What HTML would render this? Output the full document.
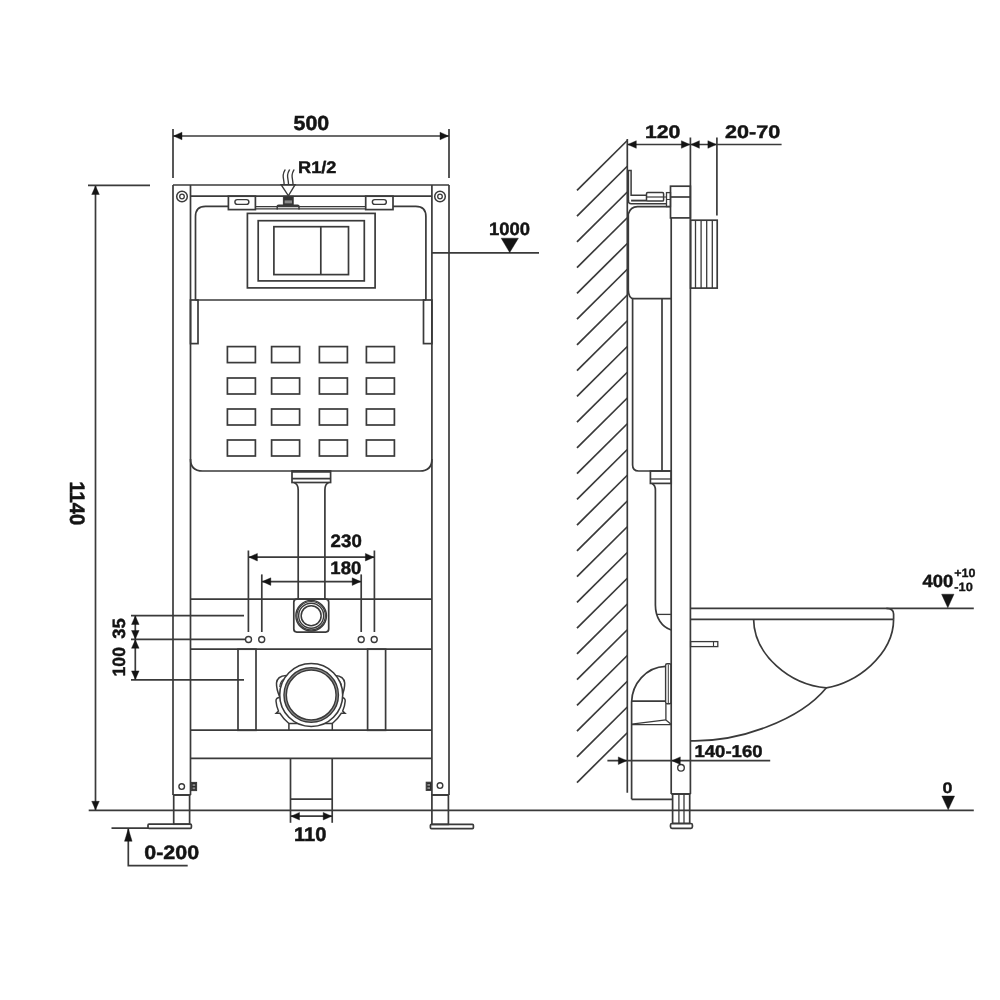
<!DOCTYPE html>
<html><head><meta charset="utf-8"><title>Installation frame drawing</title>
<style>
html,body{margin:0;padding:0;background:#fff;width:1000px;height:1000px;overflow:hidden}
svg{display:block;will-change:transform}
svg line,svg rect,svg circle,svg path,svg polygon{stroke:#3a3a3a;stroke-width:1.7;fill:none}
svg .f{fill:#141414;stroke:#141414;stroke-width:0.4}
svg text{font-family:"Liberation Sans",sans-serif;font-weight:bold;fill:#141414;stroke:#141414;stroke-width:0.5;text-rendering:geometricPrecision}
</style></head>
<body>
<svg width="1000" height="1000" viewBox="0 0 1000 1000">
<rect x="0" y="0" width="1000" height="1000" fill="#fff" style="stroke:none"/>
<line x1="173" y1="129" x2="173" y2="178"/>
<line x1="449" y1="129" x2="449" y2="178"/>
<line x1="173" y1="136" x2="449" y2="136"/>
<polygon points="173.5,136 182.0,132.2 182.0,139.8" class="f"/>
<polygon points="448.5,136 440.0,132.2 440.0,139.8" class="f"/>
<text x="0" y="0" font-size="20" transform="matrix(1.0678 0 0 1.024 293.593 130.05)">500</text>
<line x1="173" y1="185" x2="173" y2="795"/>
<line x1="449" y1="185" x2="449" y2="795"/>
<line x1="190.5" y1="185" x2="190.5" y2="795"/>
<line x1="431.9" y1="185" x2="431.9" y2="795"/>
<line x1="173" y1="185" x2="449" y2="185"/>
<line x1="190.5" y1="196.2" x2="431.9" y2="196.2"/>
<line x1="173" y1="795" x2="190.5" y2="795"/>
<line x1="431.9" y1="795" x2="449" y2="795"/>
<circle cx="182" cy="196.5" r="5.3" style="stroke-width:1.5;"/>
<circle cx="182" cy="196.5" r="2.3" style="stroke-width:1.3;"/>
<circle cx="440" cy="196.5" r="5.3" style="stroke-width:1.5;"/>
<circle cx="440" cy="196.5" r="2.3" style="stroke-width:1.3;"/>
<rect x="228.4" y="196.2" width="27.0" height="13.4"/>
<rect x="234.9" y="199.6" width="14.0" height="4.8" rx="2.4" style="stroke-width:1.4;"/>
<rect x="365.7" y="196.2" width="27.3" height="13.4"/>
<rect x="372.35" y="199.6" width="14.0" height="4.8" rx="2.4" style="stroke-width:1.4;"/>
<path d="M195.5,300 V216.5 Q195.5,206.3 205.5,206.3 H228.4"/>
<path d="M393,206.3 H415.8 Q425.9,206.3 425.9,216.5 V300"/>
<line x1="195.5" y1="300" x2="426" y2="300"/>
<line x1="255.4" y1="206.6" x2="365.7" y2="206.6" style="stroke-width:1.2"/>
<line x1="255.4" y1="208.9" x2="365.7" y2="208.9" style="stroke-width:1.2"/>
<path d="M281.1,184.6 L295.1,184.6 L288.4,195.8 Z" style="stroke-width:1.4;"/>
<path d="M284.2,185 C284.0,180 282.9,178 283.2,175 S284.5,171 285.3,169.5" style="stroke-width:1.35;"/>
<path d="M288.6,185 C288.40000000000003,180 287.3,178 287.6,175 S288.90000000000003,171 289.70000000000005,169.5" style="stroke-width:1.35;"/>
<path d="M293.1,185 C292.90000000000003,180 291.8,178 292.1,175 S293.40000000000003,171 294.20000000000005,169.5" style="stroke-width:1.35;"/>
<rect x="283.4" y="196.3" width="9.8" height="9.0" style="fill:#333;stroke-width:1.0;"/>
<rect x="284.6" y="200.4" width="7.4" height="3.0" style="fill:#8a8a8a;stroke:none"/>
<path d="M277.2,209.6 V206.4 Q277.2,205.3 278.6,205.3 H297.6 Q299,205.3 299,206.4 V209.6" style="stroke-width:1.5;"/>
<rect x="247.4" y="213.4" width="127.7" height="74.5"/>
<rect x="258.2" y="220.7" width="106.1" height="60.2"/>
<rect x="273.9" y="226.7" width="74.6" height="47.9"/>
<line x1="320.8" y1="226.7" x2="320.8" y2="274.6"/>
<text x="0" y="0" font-size="20" transform="matrix(0.9101 0 0 0.8393 298.0324 172.9139)">R1/2</text>
<path d="M190.5,459 Q190.5,471 202.5,471 H419.9 Q431.9,471 431.9,459"/>
<rect x="190.5" y="300" width="7.5" height="43.6"/>
<rect x="423.5" y="300" width="8.4" height="43.6"/>
<rect x="227.4" y="346.6" width="28.0" height="16.0"/>
<rect x="227.4" y="378" width="28.0" height="16"/>
<rect x="227.4" y="409" width="28.0" height="16"/>
<rect x="227.4" y="440" width="28.0" height="16"/>
<rect x="271.6" y="346.6" width="28.0" height="16.0"/>
<rect x="271.6" y="378" width="28.0" height="16"/>
<rect x="271.6" y="409" width="28.0" height="16"/>
<rect x="271.6" y="440" width="28.0" height="16"/>
<rect x="319.4" y="346.6" width="28.0" height="16.0"/>
<rect x="319.4" y="378" width="28.0" height="16"/>
<rect x="319.4" y="409" width="28.0" height="16"/>
<rect x="319.4" y="440" width="28.0" height="16"/>
<rect x="366.4" y="346.6" width="28.0" height="16.0"/>
<rect x="366.4" y="378" width="28.0" height="16"/>
<rect x="366.4" y="409" width="28.0" height="16"/>
<rect x="366.4" y="440" width="28.0" height="16"/>
<rect x="292" y="471" width="38.6" height="11.5"/>
<line x1="292" y1="471.6" x2="330.6" y2="471.6" style="stroke-width:2.4"/>
<line x1="292" y1="478.6" x2="330.6" y2="478.6"/>
<path d="M294,482.5 Q298.2,484 298.2,490 V599"/>
<path d="M328.6,482.5 Q324.9,484 324.9,490 V599"/>
<line x1="190.5" y1="599.1" x2="431.9" y2="599.1"/>
<line x1="190.5" y1="649.2" x2="431.9" y2="649.2"/>
<rect x="293.8" y="599.2" width="34.9" height="32.9" rx="3"/>
<circle cx="311.15" cy="615.7" r="15.3" style="stroke-width:1.4;"/>
<circle cx="311.15" cy="615.7" r="14.2" style="stroke-width:1.2;"/>
<circle cx="311.15" cy="615.7" r="12.5" style="stroke-width:1.4;"/>
<circle cx="311.15" cy="615.7" r="10.0" style="stroke-width:1.5;"/>
<line x1="248.4" y1="550.5" x2="248.4" y2="632"/>
<line x1="374.4" y1="550.5" x2="374.4" y2="632"/>
<line x1="261.8" y1="574.4" x2="261.8" y2="632"/>
<line x1="361.2" y1="574.4" x2="361.2" y2="632"/>
<line x1="248.4" y1="557.2" x2="374.4" y2="557.2"/>
<polygon points="248.9,557.2 257.4,553.4 257.4,561.0" class="f"/>
<polygon points="373.9,557.2 365.4,553.4 365.4,561.0" class="f"/>
<line x1="261.8" y1="581.6" x2="361.2" y2="581.6"/>
<polygon points="262.3,581.6 270.8,577.8 270.8,585.4" class="f"/>
<polygon points="360.7,581.6 352.2,577.8 352.2,585.4" class="f"/>
<text x="0" y="0" font-size="20" transform="matrix(0.9339 0 0 0.8986 330.6025 546.5482)">230</text>
<text x="0" y="0" font-size="20" transform="matrix(0.9268 0 0 0.9004 330.3324 574.3241)">180</text>
<circle cx="248.5" cy="639.5" r="3.0" style="stroke-width:1.4;"/>
<circle cx="261.7" cy="639.5" r="3.0" style="stroke-width:1.4;"/>
<circle cx="361.2" cy="639.5" r="3.0" style="stroke-width:1.4;"/>
<circle cx="374.2" cy="639.5" r="3.0" style="stroke-width:1.4;"/>
<line x1="131" y1="615.6" x2="244" y2="615.6"/>
<line x1="131" y1="639.4" x2="245.4" y2="639.4"/>
<line x1="131" y1="679.8" x2="244" y2="679.8"/>
<line x1="135.3" y1="615.6" x2="135.3" y2="679.8"/>
<polygon points="135.3,616 131.5,624.5 139.1,624.5" class="f"/>
<polygon points="135.3,639 131.5,630.5 139.1,630.5" class="f"/>
<polygon points="135.3,639.8 131.5,648.3 139.1,648.3" class="f"/>
<polygon points="135.3,679.4 131.5,670.9 139.1,670.9" class="f"/>
<text x="0" y="0" font-size="20" transform="matrix(0 -0.9185 0.888 0 125.3506 638.7716)">35</text>
<text x="0" y="0" font-size="20" transform="matrix(0 -0.8821 0.8898 0 125.3762 676.4612)">100</text>
<rect x="238" y="649.2" width="18" height="81.1"/>
<rect x="367.6" y="649.2" width="18.0" height="81.1"/>
<path d="M288.9,730 V723.5 H332.3 V730" style="stroke-width:1.5"/>
<g id="clipL">
<path d="M286.2,675.4 C281,675.6 277,678 276.5,683 C276.3,688 278,693 279.8,697.2" style="stroke-width:1.5;"/>
<path d="M284,679 C281.5,680.5 280,683 279.8,687" style="stroke-width:1.2;"/>
<path d="M279.8,697.5 C277.5,697.5 275.8,698.5 276,701 C276.2,705 277.5,708.5 278.5,711 L276.2,713.2 L279.8,713.2 C281.5,716 285,720.5 288.9,723.5" style="stroke-width:1.5;"/>
</g>
<use href="#clipL" transform="translate(621.2 0) scale(-1 1)"/>
<circle cx="311.2" cy="695" r="31.5" style="fill:#fff;stroke-width:1.6;"/>
<circle cx="311.2" cy="695" r="26.05" style="stroke:#9a9a9a;stroke-width:1.6"/>
<circle cx="311.2" cy="695" r="27.2" style="stroke-width:1.5;"/>
<circle cx="311.2" cy="695" r="24.9" style="stroke-width:1.5;"/>
<line x1="190.5" y1="730.2" x2="431.9" y2="730.2"/>
<line x1="190.5" y1="758.3" x2="431.9" y2="758.3"/>
<line x1="290.5" y1="758.3" x2="290.5" y2="822.8"/>
<line x1="332.2" y1="758.3" x2="332.2" y2="822.8"/>
<line x1="290.5" y1="799.2" x2="332.2" y2="799.2"/>
<line x1="290.5" y1="816.2" x2="332.2" y2="816.2"/>
<polygon points="291,816.2 299.5,812.4 299.5,820.0" class="f"/>
<polygon points="331.7,816.2 323.2,812.4 323.2,820.0" class="f"/>
<text x="0" y="0" font-size="20" transform="matrix(1.0067 0 0 0.9887 293.9817 840.5569)">110</text>
<rect x="173.7" y="795" width="15.9" height="29.2"/>
<rect x="148" y="824.2" width="43.4" height="4.1" rx="1"/>
<rect x="431.9" y="795" width="16.5" height="29.4"/>
<rect x="430.4" y="824.4" width="43.0" height="4.2" rx="1"/>
<circle cx="181.7" cy="786.6" r="2.8" style="stroke-width:1.4;"/>
<circle cx="440" cy="785.6" r="2.8" style="stroke-width:1.4;"/>
<rect x="191.3" y="782.4" width="5.3" height="8.2" style="fill:#2e2e2e;stroke-width:1.0;"/>
<rect x="192.6" y="784.2" width="2.6" height="1.8" style="fill:#8a8a8a;stroke:none"/><rect x="192.6" y="787.4" width="2.6" height="1.8" style="fill:#8a8a8a;stroke:none"/>
<rect x="426.2" y="782.2" width="5.2" height="8.2" style="fill:#2e2e2e;stroke-width:1.0;"/>
<rect x="427.4" y="784" width="2.6" height="1.8" style="fill:#8a8a8a;stroke:none"/><rect x="427.4" y="787.2" width="2.6" height="1.8" style="fill:#8a8a8a;stroke:none"/>
<line x1="88.7" y1="810.3" x2="973.8" y2="810.3"/>
<line x1="88" y1="185.4" x2="150" y2="185.4"/>
<line x1="95.5" y1="185.5" x2="95.5" y2="810"/>
<polygon points="95.5,186 91.7,194.5 99.3,194.5" class="f"/>
<polygon points="95.5,809.8 91.7,801.3 99.3,801.3" class="f"/>
<text x="0" y="0" font-size="20" transform="matrix(0 1.0068 -1.0452 0 70.3541 481.4817)">1140</text>
<line x1="111.5" y1="828.2" x2="148" y2="828.2"/>
<path d="M128.3,829 V865.7 H187.7" style="fill:none;"/>
<polygon points="128.3,828.8 124.5,841.3 132.1,841.3" class="f"/>
<text x="0" y="0" font-size="20" transform="matrix(1.0739 0 0 0.9746 144.2006 858.5597)">0-200</text>
<line x1="431.9" y1="252.8" x2="539" y2="252.8"/>
<polygon points="501.2,238.2 518.4,238.2 509.7,252.6" class="f"/>
<text x="0" y="0" font-size="20" transform="matrix(0.9219 0 0 0.8969 488.8886 234.9748)">1000</text>
<line x1="627.3" y1="139" x2="627.3" y2="792.8"/>
<line x1="577" y1="190.3" x2="627.3" y2="140.5"/>
<line x1="577" y1="216.05" x2="627.3" y2="166.25"/>
<line x1="577" y1="241.8" x2="627.3" y2="192.0"/>
<line x1="577" y1="267.55" x2="627.3" y2="217.75"/>
<line x1="577" y1="293.3" x2="627.3" y2="243.5"/>
<line x1="577" y1="319.05" x2="627.3" y2="269.25"/>
<line x1="577" y1="344.8" x2="627.3" y2="295.0"/>
<line x1="577" y1="370.55" x2="627.3" y2="320.75"/>
<line x1="577" y1="396.3" x2="627.3" y2="346.5"/>
<line x1="577" y1="422.05" x2="627.3" y2="372.25"/>
<line x1="577" y1="447.8" x2="627.3" y2="398.0"/>
<line x1="577" y1="473.55" x2="627.3" y2="423.75"/>
<line x1="577" y1="499.3" x2="627.3" y2="449.5"/>
<line x1="577" y1="525.05" x2="627.3" y2="475.25"/>
<line x1="577" y1="550.8" x2="627.3" y2="501.0"/>
<line x1="577" y1="576.55" x2="627.3" y2="526.75"/>
<line x1="577" y1="602.3" x2="627.3" y2="552.5"/>
<line x1="577" y1="628.05" x2="627.3" y2="578.25"/>
<line x1="577" y1="653.8" x2="627.3" y2="604.0"/>
<line x1="577" y1="679.55" x2="627.3" y2="629.75"/>
<line x1="577" y1="705.3" x2="627.3" y2="655.5"/>
<line x1="577" y1="731.05" x2="627.3" y2="681.25"/>
<line x1="577" y1="756.8" x2="627.3" y2="707.0"/>
<line x1="577" y1="782.55" x2="627.3" y2="732.75"/>
<line x1="627.3" y1="144.5" x2="781.6" y2="144.5"/>
<polygon points="627.8,144.5 636.3,140.7 636.3,148.3" class="f"/>
<polygon points="689.9,144.5 681.4,140.7 681.4,148.3" class="f"/>
<polygon points="690.9,144.5 699.4,140.7 699.4,148.3" class="f"/>
<polygon points="716.4,144.5 707.9,140.7 707.9,148.3" class="f"/>
<text x="0" y="0" font-size="20" transform="matrix(1.0611 0 0 0.9181 644.9133 137.8207)">120</text>
<text x="0" y="0" font-size="20" transform="matrix(1.0778 0 0 0.9181 725.0027 137.8207)">20-70</text>
<line x1="690.4" y1="137.6" x2="690.4" y2="794"/>
<line x1="716.9" y1="137.6" x2="716.9" y2="215.5"/>
<line x1="671.2" y1="217.9" x2="671.2" y2="794"/>
<line x1="671.2" y1="794" x2="690.4" y2="794"/>
<path d="M628.4,201 V170.5 H631.1 V195.3 H646.5" style="stroke-width:1.5;"/>
<path d="M628.4,200 V201 Q628.4,203.7 631.2,203.7 H666.5" style="stroke-width:1.5;"/>
<line x1="631.1" y1="200.6" x2="646.5" y2="200.6" style="stroke-width:1.9"/>
<rect x="646.5" y="192.6" width="17.1" height="8.5" rx="1.2" style="stroke-width:1.5;"/>
<line x1="646.5" y1="197" x2="663.6" y2="197" style="stroke-width:1.2"/>
<line x1="663.6" y1="197" x2="666.5" y2="197" style="stroke-width:1.0"/>
<rect x="666.5" y="192.6" width="4.0" height="14.0" style="stroke-width:1.3;"/>
<line x1="666.5" y1="199.5" x2="670.5" y2="199.5" style="stroke-width:1.0"/>
<rect x="670.5" y="186.2" width="19.9" height="31.7"/>
<line x1="670.5" y1="197" x2="690.4" y2="197"/>
<path d="M628.3,290 V214 Q630.5,206.6 637.5,206.6 H671"/>
<path d="M628.3,290 Q628.5,298.7 634,298.7 H671"/>
<path d="M632.6,298.7 V465 Q632.6,471 638.6,471 H671"/>
<line x1="662" y1="298.7" x2="662" y2="471"/>
<rect x="690.6" y="220.2" width="26.6" height="67.9"/>
<line x1="695.5" y1="220.2" x2="695.5" y2="288.1" style="stroke-width:1.3"/>
<line x1="701.1" y1="220.2" x2="701.1" y2="288.1" style="stroke-width:1.3"/>
<line x1="706.7" y1="220.2" x2="706.7" y2="288.1" style="stroke-width:1.3"/>
<line x1="712.3" y1="220.2" x2="712.3" y2="288.1" style="stroke-width:1.3"/>
<rect x="650.4" y="471" width="20.8" height="12.4"/>
<line x1="650.4" y1="479" x2="671.2" y2="479" style="stroke-width:1.3"/>
<path d="M652,483.4 Q655.4,485 655.4,490 V605 C655.4,618 662,627 671.2,630"/>
<line x1="656" y1="614.4" x2="671.2" y2="614.4" style="stroke-width:1.3"/>
<path d="M631.6,799.3 V702 C632,684 646,667 665.6,666.4"/>
<line x1="631.6" y1="799.3" x2="672.6" y2="799.3"/>
<rect x="665.6" y="663.8" width="5.4" height="40.0" rx="1.5" style="stroke-width:1.4;"/>
<line x1="668.3" y1="664.5" x2="668.3" y2="703" style="stroke-width:1.0"/>
<line x1="631.6" y1="701.2" x2="665.6" y2="701.2"/>
<path d="M665.9,703.8 V719.9 L671,724.2" style="stroke-width:1.3;"/>
<path d="M631.6,724.2 L665.9,719.9" style="stroke-width:1.3;"/>
<line x1="631.6" y1="724.6" x2="671.2" y2="724.6" style="stroke-width:1.3"/>
<rect x="672.6" y="794" width="17.1" height="29.5"/>
<line x1="678.9" y1="794" x2="678.9" y2="823.5" style="stroke-width:1.3"/>
<line x1="684" y1="794" x2="684" y2="823.5" style="stroke-width:1.3"/>
<rect x="670.5" y="823.5" width="21.9" height="4.8" rx="1.5"/>
<circle cx="681" cy="767.8" r="3.3" style="stroke-width:1.4;"/>
<line x1="607.4" y1="760.7" x2="770.2" y2="760.7"/>
<polygon points="626.8,760.7 618.3,756.9 618.3,764.5" class="f"/>
<polygon points="671.8,760.7 680.3,756.9 680.3,764.5" class="f"/>
<text x="0" y="0" font-size="20" transform="matrix(0.9268 0 0 0.851 694.4824 756.6338)">140-160</text>
<rect x="690.6" y="641.6" width="27.2" height="5.0" style="stroke-width:1.3;"/>
<line x1="713.5" y1="641.6" x2="713.5" y2="646.6" style="stroke-width:1.1"/>
<line x1="690.4" y1="608.3" x2="973.8" y2="608.3"/>
<line x1="690.4" y1="619.3" x2="893.6" y2="619.3"/>
<path d="M886.4,608.3 Q893.6,608.3 893.6,614 V619.3"/>
<path d="M753.6,619.3 C754,655 790,685 826.4,687.8 C855,684 893.6,655 893.6,619.3" style="fill:none;"/>
<path d="M826.4,687.8 C800,720 740,742 690.6,740.8" style="fill:none;"/>
<polygon points="941.6,594.2 954,594.2 947.8,607.8" class="f"/>
<text x="0" y="0" font-size="20" transform="matrix(0.921 0 0 0.8828 922.4712 586.9776)">400</text>
<text x="0" y="0" font-size="20" transform="matrix(0.6261 0 0 0.6003 954.2242 577.1328)">+10</text>
<text x="0" y="0" font-size="20" transform="matrix(0.6409 0 0 0.6003 954.2493 590.6328)">-10</text>
<polygon points="941.8,796 954.6,796 948.2,809.8" class="f"/>
<text x="0" y="0" font-size="20" transform="matrix(0.8936 0 0 0.7556 942.5431 792.6024)">0</text>
</svg>
</body></html>
